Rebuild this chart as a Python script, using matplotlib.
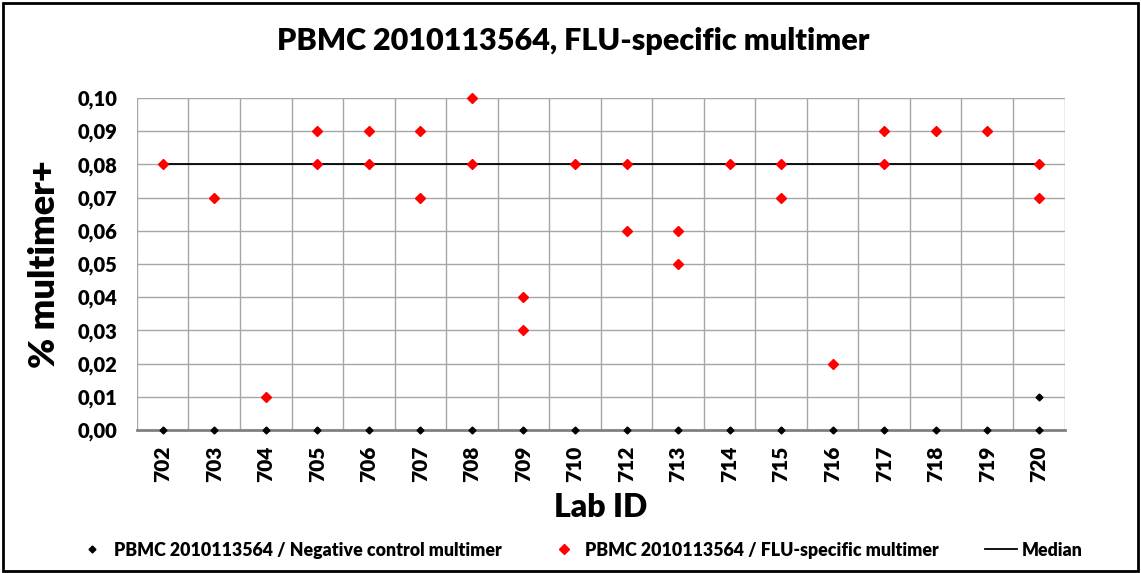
import numpy as np
import matplotlib
matplotlib.use("Agg")
import matplotlib.pyplot as plt
from matplotlib.patches import Rectangle
from matplotlib.lines import Line2D
from matplotlib.ticker import FuncFormatter

plt.rcParams['font.family'] = ['Lato', 'DejaVu Sans']

# Lab IDs on the x axis (no 711)
lab_ids = ['702', '703', '704', '705', '706', '707', '708', '709', '710',
           '712', '713', '714', '715', '716', '717', '718', '719', '720']

# FLU-specific multimer results (lab, % multimer+)
flu_labs = ['702', '703', '704', '705', '705', '706', '706', '707', '707',
            '708', '708', '709', '709', '710', '712', '712', '713', '713',
            '714', '715', '715', '716', '717', '717', '718', '719', '720', '720']
flu_vals = [0.08, 0.07, 0.01, 0.09, 0.08, 0.09, 0.08, 0.09, 0.07,
            0.10, 0.08, 0.04, 0.03, 0.08, 0.08, 0.06, 0.06, 0.05,
            0.08, 0.08, 0.07, 0.02, 0.09, 0.08, 0.09, 0.09, 0.08, 0.07]

# Negative control multimer results
neg_labs = lab_ids + ['720']
neg_vals = [0.00] * len(lab_ids) + [0.01]

median_val = 0.08

pos = {lab: i for i, lab in enumerate(lab_ids)}

fig = plt.figure(figsize=(11.41, 5.73), dpi=100)
ax = fig.add_axes([0.120, 0.2496, 0.813, 0.5794])

# grid: horizontal at ticks, vertical between categories
for y in np.arange(0.01, 0.101, 0.01):
    ax.axhline(y, color='#a6a6a6', lw=1.0, zorder=0)
for b in np.arange(-0.5, len(lab_ids), 1.0):
    ax.axvline(b, color='#a6a6a6', lw=1.0, zorder=0)

ax.plot([0, len(lab_ids) - 1], [median_val, median_val], color='black', lw=1.3, zorder=2)
ax.plot([pos[l] for l in neg_labs], neg_vals, 'D', color='black', ms=3.5, ls='none',
        zorder=3, clip_on=False)
ax.plot([pos[l] for l in flu_labs], flu_vals, 'D', color='#ff0000', ms=4.6, ls='none',
        zorder=4, clip_on=False)

ax.set_xlim(-0.5, len(lab_ids) - 0.5)
ax.set_ylim(0, 0.10)
ax.set_yticks(np.arange(0, 0.101, 0.01))
ax.yaxis.set_major_formatter(FuncFormatter(lambda v, p: f"{v:.2f}".replace('.', ',')))
ax.set_xticks(range(len(lab_ids)))
ax.set_xticklabels(lab_ids, rotation=90)

for s in ['top', 'right', 'left']:
    ax.spines[s].set_visible(False)
ax.spines['bottom'].set_color('#808080')
ax.spines['bottom'].set_linewidth(2)
ax.tick_params(axis='x', length=0, pad=11)
ax.tick_params(axis='y', length=0, pad=14)
for t in ax.get_xticklabels():
    t.set_fontsize(15)
    t.set_fontweight('heavy')
for t in ax.get_yticklabels():
    t.set_fontsize(14.5)
    t.set_fontweight('heavy')

ax.set_ylabel('% multimer+', fontsize=26, fontweight='heavy', labelpad=12)
ax.set_xlabel('Lab ID', fontsize=23, fontweight='heavy', labelpad=8)
fig.text(0.502, 0.928, 'PBMC 2010113564, FLU-specific multimer', ha='center', va='center',
         fontsize=22, fontweight='heavy')

handles = [
    Line2D([], [], marker='D', color='black', ms=3.5, ls='none'),
    Line2D([], [], marker='D', color='#ff0000', ms=4.6, ls='none'),
    Line2D([], [], color='black', lw=1.3),
]
labels = ['PBMC 2010113564 / Negative control multimer',
          'PBMC 2010113564 / FLU-specific multimer', 'Median']
fig.legend(handles, labels, loc='center', bbox_to_anchor=(0.508, 0.04), ncol=3,
           frameon=False, prop={'size': 12.8, 'weight': 'heavy'}, handlelength=1.8,
           handletextpad=0.3, columnspacing=2.6)

fig.patches.append(Rectangle((0.003, 0.004), 0.994, 0.99, transform=fig.transFigure,
                             fill=False, edgecolor='black', lw=2))

fig.savefig('out.png', dpi=100)
